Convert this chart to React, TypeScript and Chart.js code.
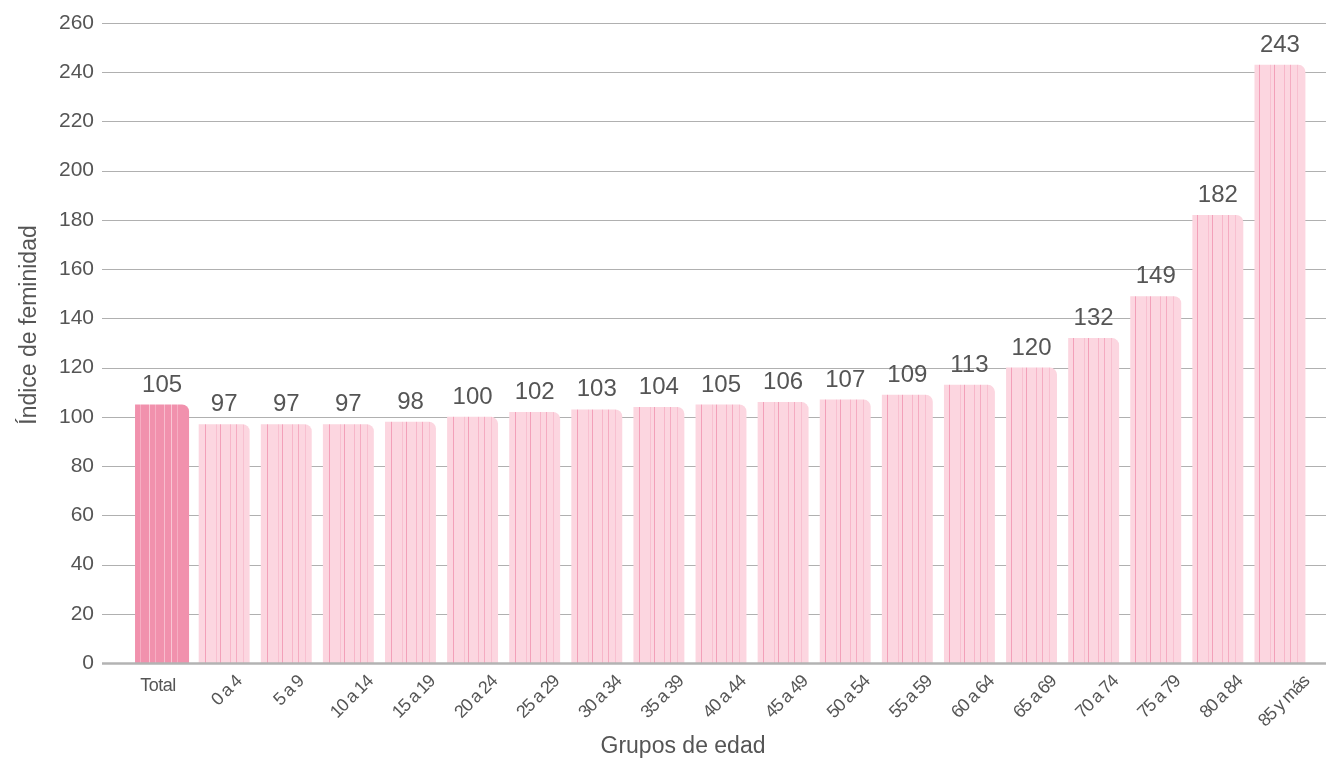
import React, { useEffect, useRef } from "react";
import { Chart, registerables } from "chart.js";

Chart.register(...registerables);

const categories = [
  "Total", "0 a 4", "5 a 9", "10 a 14", "15 a 19", "20 a 24", "25 a 29", "30 a 34",
  "35 a 39", "40 a 44", "45 a 49", "50 a 54", "55 a 59", "60 a 64", "65 a 69",
  "70 a 74", "75 a 79", "80 a 84", "85 y más",
];
const values = [105, 97, 97, 97, 98, 100, 102, 103, 104, 105, 106, 107, 109, 113, 120, 132, 149, 182, 243];
const yTicks = [0, 20, 40, 60, 80, 100, 120, 140, 160, 180, 200, 220, 240, 260];
const yTitle = "Índice de feminidad";
const xTitle = "Grupos de edad";

const FONT = '"Liberation Sans", Arial, sans-serif';
const TEXT = "#555555";

function makePattern(base: string, stripes: [number, string][]) {
  const c = document.createElement("canvas");
  c.width = 62;
  c.height = 4;
  const g = c.getContext("2d")!;
  g.fillStyle = base;
  g.fillRect(0, 0, 62, 4);
  for (const [x, col] of stripes) {
    g.fillStyle = col;
    g.fillRect(x, 0, 1, 4);
  }
  return g.createPattern(c, "repeat")!;
}

export default function App() {
  const ref = useRef<HTMLCanvasElement>(null);
  useEffect(() => {
    const canvas = ref.current!;
    const lightPat = makePattern("#fcd6e0", [
      [7, "#f7b6c9"], [19, "#f3a0b9"], [30, "#f8c0d0"], [34, "#f3a0b9"], [44, "#f7b6c9"],
      [50, "#f5abc1"], [57, "#f8c0d0"],
    ]);
    const darkPat = makePattern("#f191ad", [
      [5, "#f8bccd"], [16, "#f6aec3"], [25, "#f9c6d4"], [31, "#f6aec3"], [40, "#f8bccd"],
      [47, "#f9c6d4"], [53, "#f6aec3"],
    ]);

    const gridPlugin = {
      id: "customGrid",
      beforeDatasetsDraw(chart: any) {
        const ctx = chart.ctx;
        const y = chart.scales.y;
        ctx.save();
        for (const v of yTicks) {
          const py = Math.round(y.getPixelForValue(v));
          if (v === 0) continue;
          ctx.strokeStyle = "#b0b0b0";
          ctx.lineWidth = 1;
          ctx.beginPath();
          ctx.moveTo(102, py + 0.5);
          ctx.lineTo(1326, py + 0.5);
          ctx.stroke();
        }
        ctx.restore();
      },
      afterDatasetsDraw(chart: any) {
        const ctx = chart.ctx;
        const yS = chart.scales.y;
        const xS = chart.scales.x;
        ctx.save();
        // baseline
        const p0 = yS.getPixelForValue(0);
        ctx.strokeStyle = "#b3b3b3";
        ctx.lineWidth = 2.5;
        ctx.beginPath();
        ctx.moveTo(102, p0 + 0.5);
        ctx.lineTo(1326, p0 + 0.5);
        ctx.stroke();

        // value labels
        ctx.fillStyle = TEXT;
        ctx.font = `24px ${FONT}`;
        ctx.textAlign = "center";
        ctx.textBaseline = "alphabetic";
        values.forEach((v, i) => {
          const px = xS.getPixelForValue(i);
          const py = yS.getPixelForValue(v);
          ctx.fillText(String(v), px, py - 13);
        });

        // category labels
        ctx.font = `18px ${FONT}`;
        (ctx as any).letterSpacing = "-1.2px";
        categories.forEach((c, i) => {
          const px = xS.getPixelForValue(i);
          if (i === 0) {
            (ctx as any).letterSpacing = "-0.5px";
            ctx.textAlign = "center";
            ctx.textBaseline = "middle";
            ctx.fillText(c, px - 4, 686);
            (ctx as any).letterSpacing = "-1.2px";
            return;
          }
          const L = ctx.measureText(c).width;
          const cx = px + 1 + L * 0.05;
          const cy = 679 + L * 0.354;
          ctx.save();
          ctx.translate(cx, cy);
          ctx.rotate(-Math.PI / 4);
          ctx.textAlign = "center";
          ctx.textBaseline = "middle";
          ctx.fillText(c, 0, 0);
          ctx.restore();
        });
        (ctx as any).letterSpacing = "0px";

        // axis titles
        ctx.font = `23px ${FONT}`;
        ctx.textAlign = "center";
        ctx.textBaseline = "middle";
        ctx.fillText(xTitle, 683, 747);
        ctx.save();
        ctx.translate(30, 325);
        ctx.rotate(-Math.PI / 2);
        ctx.fillText(yTitle, 0, 0);
        ctx.restore();
        ctx.restore();
      },
    };

    const chart = new Chart(canvas, {
      type: "bar",
      data: {
        labels: categories,
        datasets: [
          {
            data: values.map((v, i) => (i === 0 ? v : null)),
            backgroundColor: darkPat as any,
            barPercentage: 0.87,
            categoryPercentage: 1,
            borderRadius: { topLeft: 0, topRight: 7, bottomLeft: 0, bottomRight: 0 },
            borderSkipped: false,
          },
          {
            data: values.map((v, i) => (i === 0 ? null : v)),
            backgroundColor: lightPat as any,
            barPercentage: 0.82,
            categoryPercentage: 1,
            borderRadius: { topLeft: 0, topRight: 7, bottomLeft: 0, bottomRight: 0 },
            borderSkipped: false,
          },
        ],
      },
      options: {
        responsive: false,
        animation: false,
        events: [],
        layout: { padding: { top: 23, right: 15, bottom: 96, left: 0 } },
        plugins: { legend: { display: false }, tooltip: { enabled: false } },
        datasets: { bar: { grouped: false } } as any,
        scales: {
          x: { display: false, offset: true },
          y: {
            min: 0,
            max: 260,
            afterFit: (s: any) => { s.width = 131; s.paddingTop = 0; s.paddingBottom = 0; },
            afterBuildTicks: (s: any) => { s.ticks = yTicks.map((v) => ({ value: v })); },
            ticks: { color: TEXT, font: { size: 21, family: FONT }, padding: 37 },
            grid: { display: false, drawTicks: false },
            border: { display: false },
          },
        },
      },
      plugins: [gridPlugin],
    });
    return () => chart.destroy();
  }, []);
  return (
    <div style={{ position: "fixed", left: 0, top: 0, width: 1326, height: 759, background: "#fff" }}>
      <canvas ref={ref} width={1326} height={759} style={{ display: "block" }} />
    </div>
  );
}
